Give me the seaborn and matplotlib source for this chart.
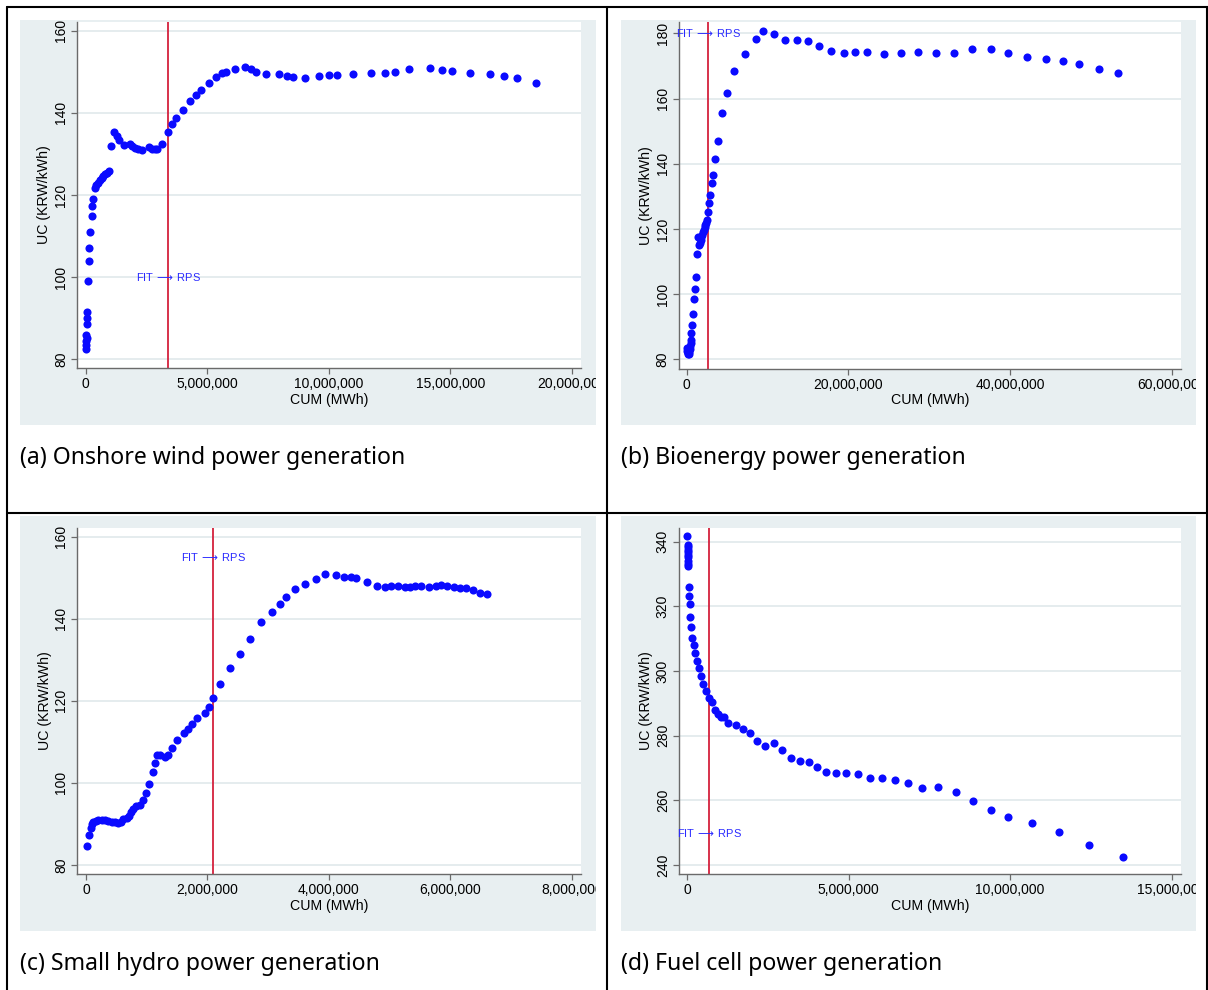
import numpy as np
import pandas as pd
import matplotlib
matplotlib.use("Agg")
import matplotlib.pyplot as plt
from matplotlib.patches import Rectangle
from matplotlib.lines import Line2D
from matplotlib.ticker import FuncFormatter
import seaborn as sns

# ---------------- data (cumulative generation in MWh, unit cost in KRW/kWh) ----------------
wind_cum = [14e3, 27e3, 27e3, 41e3, 27e3, 55e3, 69e3, 69e3, 110e3, 137e3, 151e3, 178e3,
            247e3, 274e3, 301e3, 384e3, 452e3, 521e3, 589e3, 658e3, 727e3, 795e3, 864e3,
            946e3, 1.055e6, 1.18e6, 1.275e6, 1.37e6, 1.59e6, 1.84e6, 1.92e6, 2.03e6, 2.14e6,
            2.34e6, 2.60e6, 2.74e6, 2.85e6, 2.95e6, 3.15e6, 3.41e6, 3.56e6, 3.73e6, 3.99e6,
            4.31e6, 4.53e6, 4.73e6, 5.08e6, 5.38e6, 5.61e6, 5.78e6, 6.14e6, 6.54e6, 6.80e6,
            7.01e6, 7.41e6, 7.97e6, 8.29e6, 8.52e6, 9.01e6, 9.62e6, 10.03e6, 10.35e6, 11.02e6,
            11.75e6, 12.30e6, 12.71e6, 13.31e6, 14.18e6, 14.65e6, 15.08e6, 15.81e6, 16.62e6,
            17.20e6, 17.74e6, 18.54e6]
wind_uc = [82.4, 83.4, 84.5, 85.3, 86.0, 88.5, 90.1, 91.6, 99.1, 104.0, 107.0, 111.0,
           114.9, 117.2, 119.0, 121.6, 122.4, 123.0, 123.6, 124.2, 124.6, 125.0, 125.4,
           125.8, 131.9, 135.4, 134.4, 133.3, 132.1, 132.3, 131.9, 131.5, 131.1,
           130.9, 131.6, 131.2, 131.2, 131.1, 132.4, 135.4, 137.2, 138.7, 140.7,
           142.9, 144.3, 145.5, 147.3, 148.8, 149.7, 149.9, 150.7, 151.2, 150.6,
           149.9, 149.5, 149.4, 149.0, 148.7, 148.6, 149.0, 149.1, 149.1, 149.5,
           149.6, 149.8, 149.9, 150.7, 150.9, 150.5, 150.1, 149.7, 149.5,
           149.0, 148.4, 147.3]

bio_cum = [0.05e6, 0.08e6, 0.12e6, 0.20e6, 0.28e6, 0.35e6, 0.40e6, 0.46e6, 0.52e6, 0.56e6,
           0.60e6, 0.70e6, 0.82e6, 0.95e6, 1.05e6, 1.14e6, 1.27e6, 1.35e6, 1.58e6, 1.66e6,
           1.74e6, 1.83e6, 1.92e6, 2.02e6, 2.12e6, 2.22e6, 2.32e6, 2.42e6, 2.50e6, 2.64e6,
           2.75e6, 2.92e6, 3.10e6, 3.29e6, 3.52e6, 3.89e6, 4.40e6, 4.96e6, 5.88e6, 7.18e6,
           8.62e6, 9.45e6, 10.75e6, 12.19e6, 13.67e6, 14.97e6, 16.40e6, 17.84e6, 19.46e6,
           20.85e6, 22.33e6, 24.46e6, 26.55e6, 28.59e6, 30.81e6, 33.08e6, 35.26e6, 37.71e6,
           39.75e6, 42.07e6, 44.48e6, 46.61e6, 48.51e6, 51.06e6, 53.42e6]
bio_uc = [83.3, 82.6, 82.0, 81.6, 82.2, 81.5, 83.0, 84.0, 85.0, 86.0,
          88.0, 90.4, 93.9, 98.5, 101.7, 105.3, 112.4, 117.4, 115.0, 115.8,
          116.6, 117.4, 118.2, 118.9, 119.7, 120.5, 121.2, 121.9, 122.7, 125.3,
          128.0, 130.3, 134.2, 136.6, 141.5, 147.0, 155.6, 161.6, 168.4, 173.6,
          178.2, 180.7, 179.8, 178.0, 178.0, 177.8, 176.1, 174.5, 173.9,
          174.4, 174.3, 173.6, 174.0, 174.3, 174.1, 173.9, 175.1, 175.2,
          174.1, 172.8, 172.0, 171.6, 170.7, 169.2, 167.7]

hydro_cum = [11e3, 44e3, 82e3, 93e3, 121e3, 159e3, 203e3, 258e3, 313e3, 368e3, 423e3, 477e3,
             532e3, 570e3, 615e3, 669e3, 713e3, 741e3, 779e3, 823e3, 889e3, 933e3, 988e3,
             1.037e6, 1.108e6, 1.141e6, 1.174e6, 1.218e6, 1.300e6, 1.344e6, 1.410e6, 1.503e6,
             1.613e6, 1.684e6, 1.745e6, 1.833e6, 1.953e6, 2.030e6, 2.098e6, 2.21e6, 2.38e6,
             2.54e6, 2.70e6, 2.88e6, 3.07e6, 3.19e6, 3.29e6, 3.45e6, 3.61e6, 3.79e6, 3.93e6,
             4.11e6, 4.25e6, 4.36e6, 4.45e6, 4.62e6, 4.80e6, 4.93e6, 5.02e6, 5.13e6, 5.25e6,
             5.34e6, 5.41e6, 5.52e6, 5.65e6, 5.76e6, 5.84e6, 5.95e6, 6.06e6, 6.16e6, 6.26e6,
             6.37e6, 6.49e6, 6.60e6]
hydro_uc = [84.5, 87.2, 89.1, 90.0, 90.4, 90.7, 90.9, 91.0, 90.9, 90.7, 90.5, 90.4,
            90.2, 90.4, 91.2, 91.4, 91.8, 92.8, 93.6, 94.4, 94.7, 95.8, 97.6,
            99.8, 102.6, 104.9, 106.7, 106.9, 106.3, 106.9, 108.6, 110.4,
            112.1, 113.2, 114.4, 115.7, 117.1, 118.6, 120.6, 124.2, 128.1,
            131.5, 135.1, 139.1, 141.7, 143.7, 145.4, 147.2, 148.4, 149.8, 151.0,
            150.7, 150.2, 150.1, 149.9, 148.9, 148.0, 147.7, 148.0, 148.0, 147.7,
            147.8, 147.9, 147.9, 147.7, 148.1, 148.2, 148.1, 147.7, 147.6, 147.5,
            147.1, 146.4, 146.0]

fuel_cum = [12e3, 18e3, 20e3, 22e3, 24e3, 26e3, 28e3, 30e3, 32e3, 34e3, 52e3, 72e3, 82e3,
            103e3, 134e3, 165e3, 206e3, 247e3, 309e3, 371e3, 433e3, 505e3, 577e3, 680e3,
            763e3, 876e3, 969e3, 1.05e6, 1.13e6, 1.28e6, 1.51e6, 1.72e6, 1.94e6, 2.16e6,
            2.42e6, 2.69e6, 2.93e6, 3.21e6, 3.49e6, 3.77e6, 4.03e6, 4.30e6, 4.60e6, 4.91e6,
            5.30e6, 5.67e6, 6.05e6, 6.43e6, 6.85e6, 7.28e6, 7.78e6, 8.31e6, 8.84e6, 9.40e6,
            9.93e6, 10.68e6, 11.50e6, 12.44e6, 13.48e6]
fuel_uc = [341.7, 339.1, 338.3, 337.5, 336.7, 335.9, 335.1, 333.9, 333.2, 332.4, 326.1, 323.3,
           320.7, 316.6, 313.5, 310.3, 307.9, 305.7, 303.1, 300.9, 298.4, 295.9, 293.9, 291.6,
           290.3, 287.9, 286.6, 285.9, 285.7, 283.9, 283.2, 282.1, 280.7, 278.4,
           276.8, 277.6, 275.6, 273.0, 272.0, 271.7, 270.2, 268.8, 268.4, 268.5,
           268.0, 266.9, 266.9, 266.2, 265.2, 263.9, 264.2, 262.7, 259.9, 257.0,
           254.9, 253.0, 250.1, 246.2, 242.6]

# cumulative generation at which the support scheme switched from FIT to RPS
policy_switch = [3.41e6, 2.65e6, 2.10e6, 0.68e6]
# height of the "FIT -> RPS" note on each panel
note_uc = [100, 180, 155, 250]

captions = ["(a) Onshore wind power generation", "(b) Bioenergy power generation",
            "(c) Small hydro power generation", "(d) Fuel cell power generation"]
x_ticks = [np.arange(0, 20e6 + 1, 5e6), np.arange(0, 60e6 + 1, 20e6),
           np.arange(0, 8e6 + 1, 2e6), np.arange(0, 15e6 + 1, 5e6)]
y_ticks = [np.arange(80, 161, 20), np.arange(80, 181, 20),
           np.arange(80, 161, 20), np.arange(240, 341, 20)]

# ---------------- styling ----------------
sns.set_theme(style="white")
plt.rcParams["font.family"] = ["Liberation Sans", "DejaVu Sans"]
plt.rcParams["mathtext.fontset"] = "dejavusans"

W, H = 1208, 990
fig = plt.figure(figsize=(W / 100, H / 100), dpi=100)
fig.patch.set_facecolor("white")

PANEL_BG = "#e8eff1"
GRID = "#e3eaed"
SPINE = "#6a6a6a"
DOT = "#0a0aff"
LINE = "#d4213d"
NOTE = "#2a2aff"


def fx(px):
    return px / W


def fy(py):
    return 1 - py / H


def frame(x0, y0, x1, y1):
    return [fx(x0), fy(y1), fx(x1) - fx(x0), fy(y0) - fy(y1)]


# panel background boxes (pixel extents)
bg_boxes = [(20, 20, 596, 425), (621, 20, 1196, 425),
            (20, 516, 596, 931), (621, 516, 1196, 931)]
ax_boxes = [(77, 21.7, 581, 368.3), (678.8, 22.3, 1181, 369),
            (77.4, 527.7, 581, 874.3), (678.8, 527.7, 1181, 874.3)]
xlims = [(-0.35e6, 20.38e6), (-0.97e6, 61.16e6), (-0.14e6, 8.15e6), (-0.255e6, 15.29e6)]
ylims = [(77.8, 162.2), (77.0, 183.4), (77.7, 162.2), (237.1, 344.3)]
caption_y = [458, 458, 964, 964]

for (x0, y0, x1, y1) in bg_boxes:
    fig.add_artist(Rectangle((fx(x0), fy(y1)), fx(x1) - fx(x0), fy(y0) - fy(y1),
                             transform=fig.transFigure, facecolor=PANEL_BG,
                             edgecolor="none", zorder=-5))

series = [(wind_cum, wind_uc), (bio_cum, bio_uc), (hydro_cum, hydro_uc), (fuel_cum, fuel_uc)]
comma = FuncFormatter(lambda v, p: f"{v:,.0f}")

for i, (cum, uc) in enumerate(series):
    ax = fig.add_axes(frame(*ax_boxes[i]))
    ax.set_facecolor("white")
    df = pd.DataFrame({"CUM": cum, "UC": uc})
    ax.set_axisbelow(True)
    ax.yaxis.grid(True, color=GRID, linewidth=1.3)
    ax.xaxis.grid(False)
    sns.scatterplot(data=df, x="CUM", y="UC", ax=ax, color=DOT, s=34,
                    linewidth=0, zorder=3, legend=False)
    ax.axvline(policy_switch[i], color=LINE, linewidth=1.3, zorder=2)
    ax.text(policy_switch[i], note_uc[i], r"FIT$\,\longrightarrow\,$RPS", color=NOTE,
            fontsize=8, ha="center", va="center", zorder=4)
    ax.set_xlim(*xlims[i])
    ax.set_ylim(*ylims[i])
    ax.set_xticks(x_ticks[i])
    ax.set_yticks(y_ticks[i])
    ax.xaxis.set_major_formatter(comma)
    ax.set_xlabel("CUM (MWh)", fontsize=10.2, labelpad=1, color="black")
    ax.set_ylabel("UC (KRW/kWh)", fontsize=10.2, labelpad=2, color="black")
    ax.tick_params(axis="both", which="major", direction="out", length=4, width=0.9,
                   color=SPINE, labelsize=10, labelcolor="black", pad=2.5,
                   bottom=True, left=True)
    for lbl in ax.get_yticklabels():
        lbl.set_rotation(90)
        lbl.set_va("center")
    for side in ("top", "right"):
        ax.spines[side].set_visible(False)
    for side in ("left", "bottom"):
        ax.spines[side].set_color(SPINE)
        ax.spines[side].set_linewidth(1.0)
    fig.text(fx(bg_boxes[i][0]), fy(caption_y[i]), captions[i], fontsize=16.6,
             family=["Noto Sans", "DejaVu Sans"], color="black",
             ha="left", va="center")

# white gutters that trim tick labels running past the panel boxes
for (x0, x1) in [(596, 621), (1196, 1208)]:
    fig.add_artist(Rectangle((fx(x0), fy(425)), fx(x1) - fx(x0), fy(20) - fy(425),
                             transform=fig.transFigure, facecolor="white",
                             edgecolor="none", zorder=10))
    fig.add_artist(Rectangle((fx(x0), fy(931)), fx(x1) - fx(x0), fy(516) - fy(931),
                             transform=fig.transFigure, facecolor="white",
                             edgecolor="none", zorder=10))

# table rules
rules = [((7, 7), (7, 990)), ((606.5, 606.5), (7, 990)), ((1207, 1207), (7, 990)),
         ((7, 1208), (7, 7)), ((7, 1208), (512.5, 512.5))]
for xs, ys in rules:
    fig.add_artist(Line2D([fx(x) for x in xs], [fy(y) for y in ys],
                          transform=fig.transFigure, color="black", linewidth=1.5,
                          zorder=11))

fig.savefig("out.png", dpi=100)
